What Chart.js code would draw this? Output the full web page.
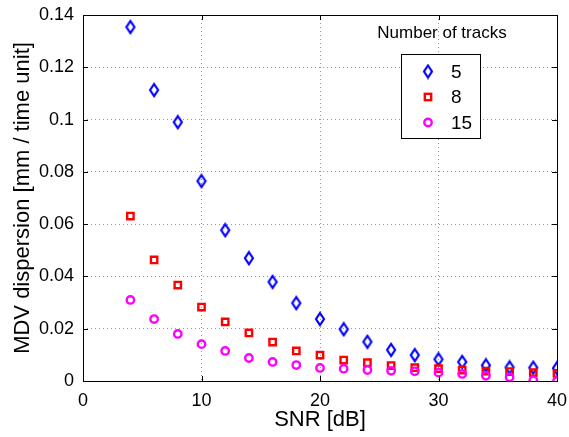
<!DOCTYPE html>
<html>
<head>
    <script src="https://cdn.jsdelivr.net/npm/chart.js"></script>
    <style>
        body { margin: 0; background: white; }
    </style>
</head>
<body>
    <canvas id="chart" width="569" height="437"></canvas>
    <script>
        // SNR values (dB)
        const snr = [4, 6, 8, 10, 12, 14, 16, 18, 20, 22, 24, 26, 28, 30, 32, 34, 36, 38, 40];
        const tracks5 = [0.1354, 0.1113, 0.0990, 0.0765, 0.0577, 0.0470, 0.0379, 0.0298, 0.0237, 0.0198, 0.0150,
                         0.0119, 0.0099, 0.0083, 0.0073, 0.0060, 0.0052, 0.0051, 0.0049];
        const tracks8 = [0.0631, 0.0463, 0.0367, 0.0283, 0.0226, 0.0184, 0.0149, 0.0115, 0.0099, 0.0080, 0.0070,
                         0.0059, 0.0051, 0.0047, 0.0042, 0.0038, 0.0036, 0.0032, 0.0029];
        const tracks15 = [0.0310, 0.0237, 0.0180, 0.0141, 0.0115, 0.0088, 0.0073, 0.0061, 0.0050, 0.0047, 0.0042,
                          0.0039, 0.0037, 0.0032, 0.0027, 0.0020, 0.0014, 0.0003, 0.0000];
        const seriesLabels = ["5", "8", "15"];
        const legendTitle = "Number of tracks";

        const FONT = "'Liberation Sans', Arial, sans-serif";

        function pts(ys) {
            return ys.map((y, i) => ({ x: snr[i], y: y }));
        }

        // tall matlab-style diamond
        function diamond(color) {
            const c = document.createElement("canvas");
            c.width = 12; c.height = 16;
            const g = c.getContext("2d");
            g.strokeStyle = color;
            g.lineWidth = 2.2;
            g.beginPath();
            g.moveTo(6, 2); g.lineTo(10, 8); g.lineTo(6, 14); g.lineTo(2, 8); g.closePath();
            g.stroke();
            return c;
        }

        // keep the plot box where the reference has it
        function noPad(s) {
            s.paddingLeft = 0; s.paddingRight = 0; s.paddingTop = 0; s.paddingBottom = 0;
        }

        const framePlugin = {
            id: "frame",
            afterDraw(chart) {
                const ctx = chart.ctx, a = chart.chartArea;
                const xs = chart.scales.x, ys = chart.scales.y;
                ctx.save();
                ctx.strokeStyle = "#000";
                ctx.lineWidth = 1;
                // inward ticks
                ctx.beginPath();
                xs.ticks.forEach(t => {
                    const px = Math.round(xs.getPixelForValue(t.value)) + 0.5;
                    ctx.moveTo(px, a.bottom); ctx.lineTo(px, a.bottom - 5);
                    ctx.moveTo(px, a.top); ctx.lineTo(px, a.top + 5);
                });
                ys.ticks.forEach(t => {
                    const py = Math.round(ys.getPixelForValue(t.value)) + 0.5;
                    ctx.moveTo(a.left, py); ctx.lineTo(a.left + 5, py);
                    ctx.moveTo(a.right, py); ctx.lineTo(a.right - 5, py);
                });
                ctx.stroke();
                ctx.strokeRect(Math.round(a.left) + 0.5, Math.round(a.top) + 0.5,
                    Math.round(a.right - a.left), Math.round(a.bottom - a.top));

                // legend
                ctx.fillStyle = "#000";
                ctx.font = "17px " + FONT;
                ctx.textAlign = "center";
                ctx.textBaseline = "middle";
                ctx.fillText(legendTitle, 442, 33);

                const bx = 401.5, by = 54.5, bw = 79, bh = 84;
                ctx.fillStyle = "#fff";
                ctx.fillRect(bx, by, bw, bh);
                ctx.strokeRect(bx, by, bw, bh);
                ctx.font = "19px " + FONT;
                ctx.textAlign = "left";
                chart.data.datasets.forEach((ds, i) => {
                    const cy = by + 17 + i * 25.5;
                    const mx = 428;
                    ctx.strokeStyle = ds.borderColor;
                    ctx.lineWidth = ds.pointBorderWidth;
                    if (typeof ds.pointStyle !== "string") {
                        const img = ds.pointStyle;
                        ctx.drawImage(img, mx - img.width / 2, cy - img.height / 2);
                    } else if (ds.pointStyle === "circle") {
                        ctx.beginPath();
                        ctx.arc(mx, cy, ds.pointRadius, 0, Math.PI * 2);
                        ctx.stroke();
                    } else {
                        const s = ds.pointRadius / Math.SQRT2;
                        ctx.strokeRect(mx - s, cy - s, 2 * s, 2 * s);
                    }
                    ctx.fillStyle = "#000";
                    ctx.fillText(ds.label, 451, cy + 1);
                });
                ctx.restore();
            }
        };

        new Chart(document.getElementById("chart").getContext("2d"), {
            type: "scatter",
            data: {
                datasets: [
                    {
                        label: seriesLabels[0], data: pts(tracks5), order: 3,
                        pointStyle: diamond("#0000ff"), pointRadius: 6, pointBorderWidth: 2.2,
                        borderColor: "#0000ff", backgroundColor: "transparent"
                    },
                    {
                        label: seriesLabels[1], data: pts(tracks8), order: 2,
                        pointStyle: "rect", pointRadius: 4.5, pointBorderWidth: 2.4,
                        borderColor: "#ff0000", backgroundColor: "transparent"
                    },
                    {
                        label: seriesLabels[2], data: pts(tracks15), order: 1,
                        pointStyle: "circle", pointRadius: 3.7, pointBorderWidth: 2.4,
                        borderColor: "#ff00ff", backgroundColor: "transparent"
                    }
                ]
            },
            options: {
                responsive: false,
                animation: false,
                layout: { padding: { top: 15, right: 12, left: 0, bottom: 0 } },
                plugins: {
                    legend: { display: false },
                    tooltip: { enabled: false }
                },
                scales: {
                    x: {
                        type: "linear", min: 0, max: 40,
                        ticks: { stepSize: 10, color: "#000", font: { family: FONT, size: 18 }, padding: 9, maxRotation: 0 },
                        grid: { color: "#999", lineWidth: 1, tickLength: 0 },
                        border: { display: false, dash: [1, 3] },
                        title: { display: true, text: "SNR [dB]", color: "#000", font: { family: FONT, size: 22 }, padding: { top: 0, bottom: 4 } },
                        afterFit(s) { s.height = 56; noPad(s); }
                    },
                    y: {
                        min: 0, max: 0.14,
                        ticks: { stepSize: 0.02, color: "#000", font: { family: FONT, size: 18 }, padding: 9,
                            callback: v => Number(v.toFixed(2)).toString() },
                        grid: { color: "#999", lineWidth: 1, tickLength: 0 },
                        border: { display: false, dash: [1, 3] },
                        title: { display: true, text: "MDV dispersion [mm / time unit]", color: "#000", font: { family: FONT, size: 22 }, padding: { top: 10, bottom: 0 } },
                        afterFit(s) { s.width = 83; noPad(s); }
                    }
                }
            },
            plugins: [framePlugin]
        });
    </script>
</body>
</html>
